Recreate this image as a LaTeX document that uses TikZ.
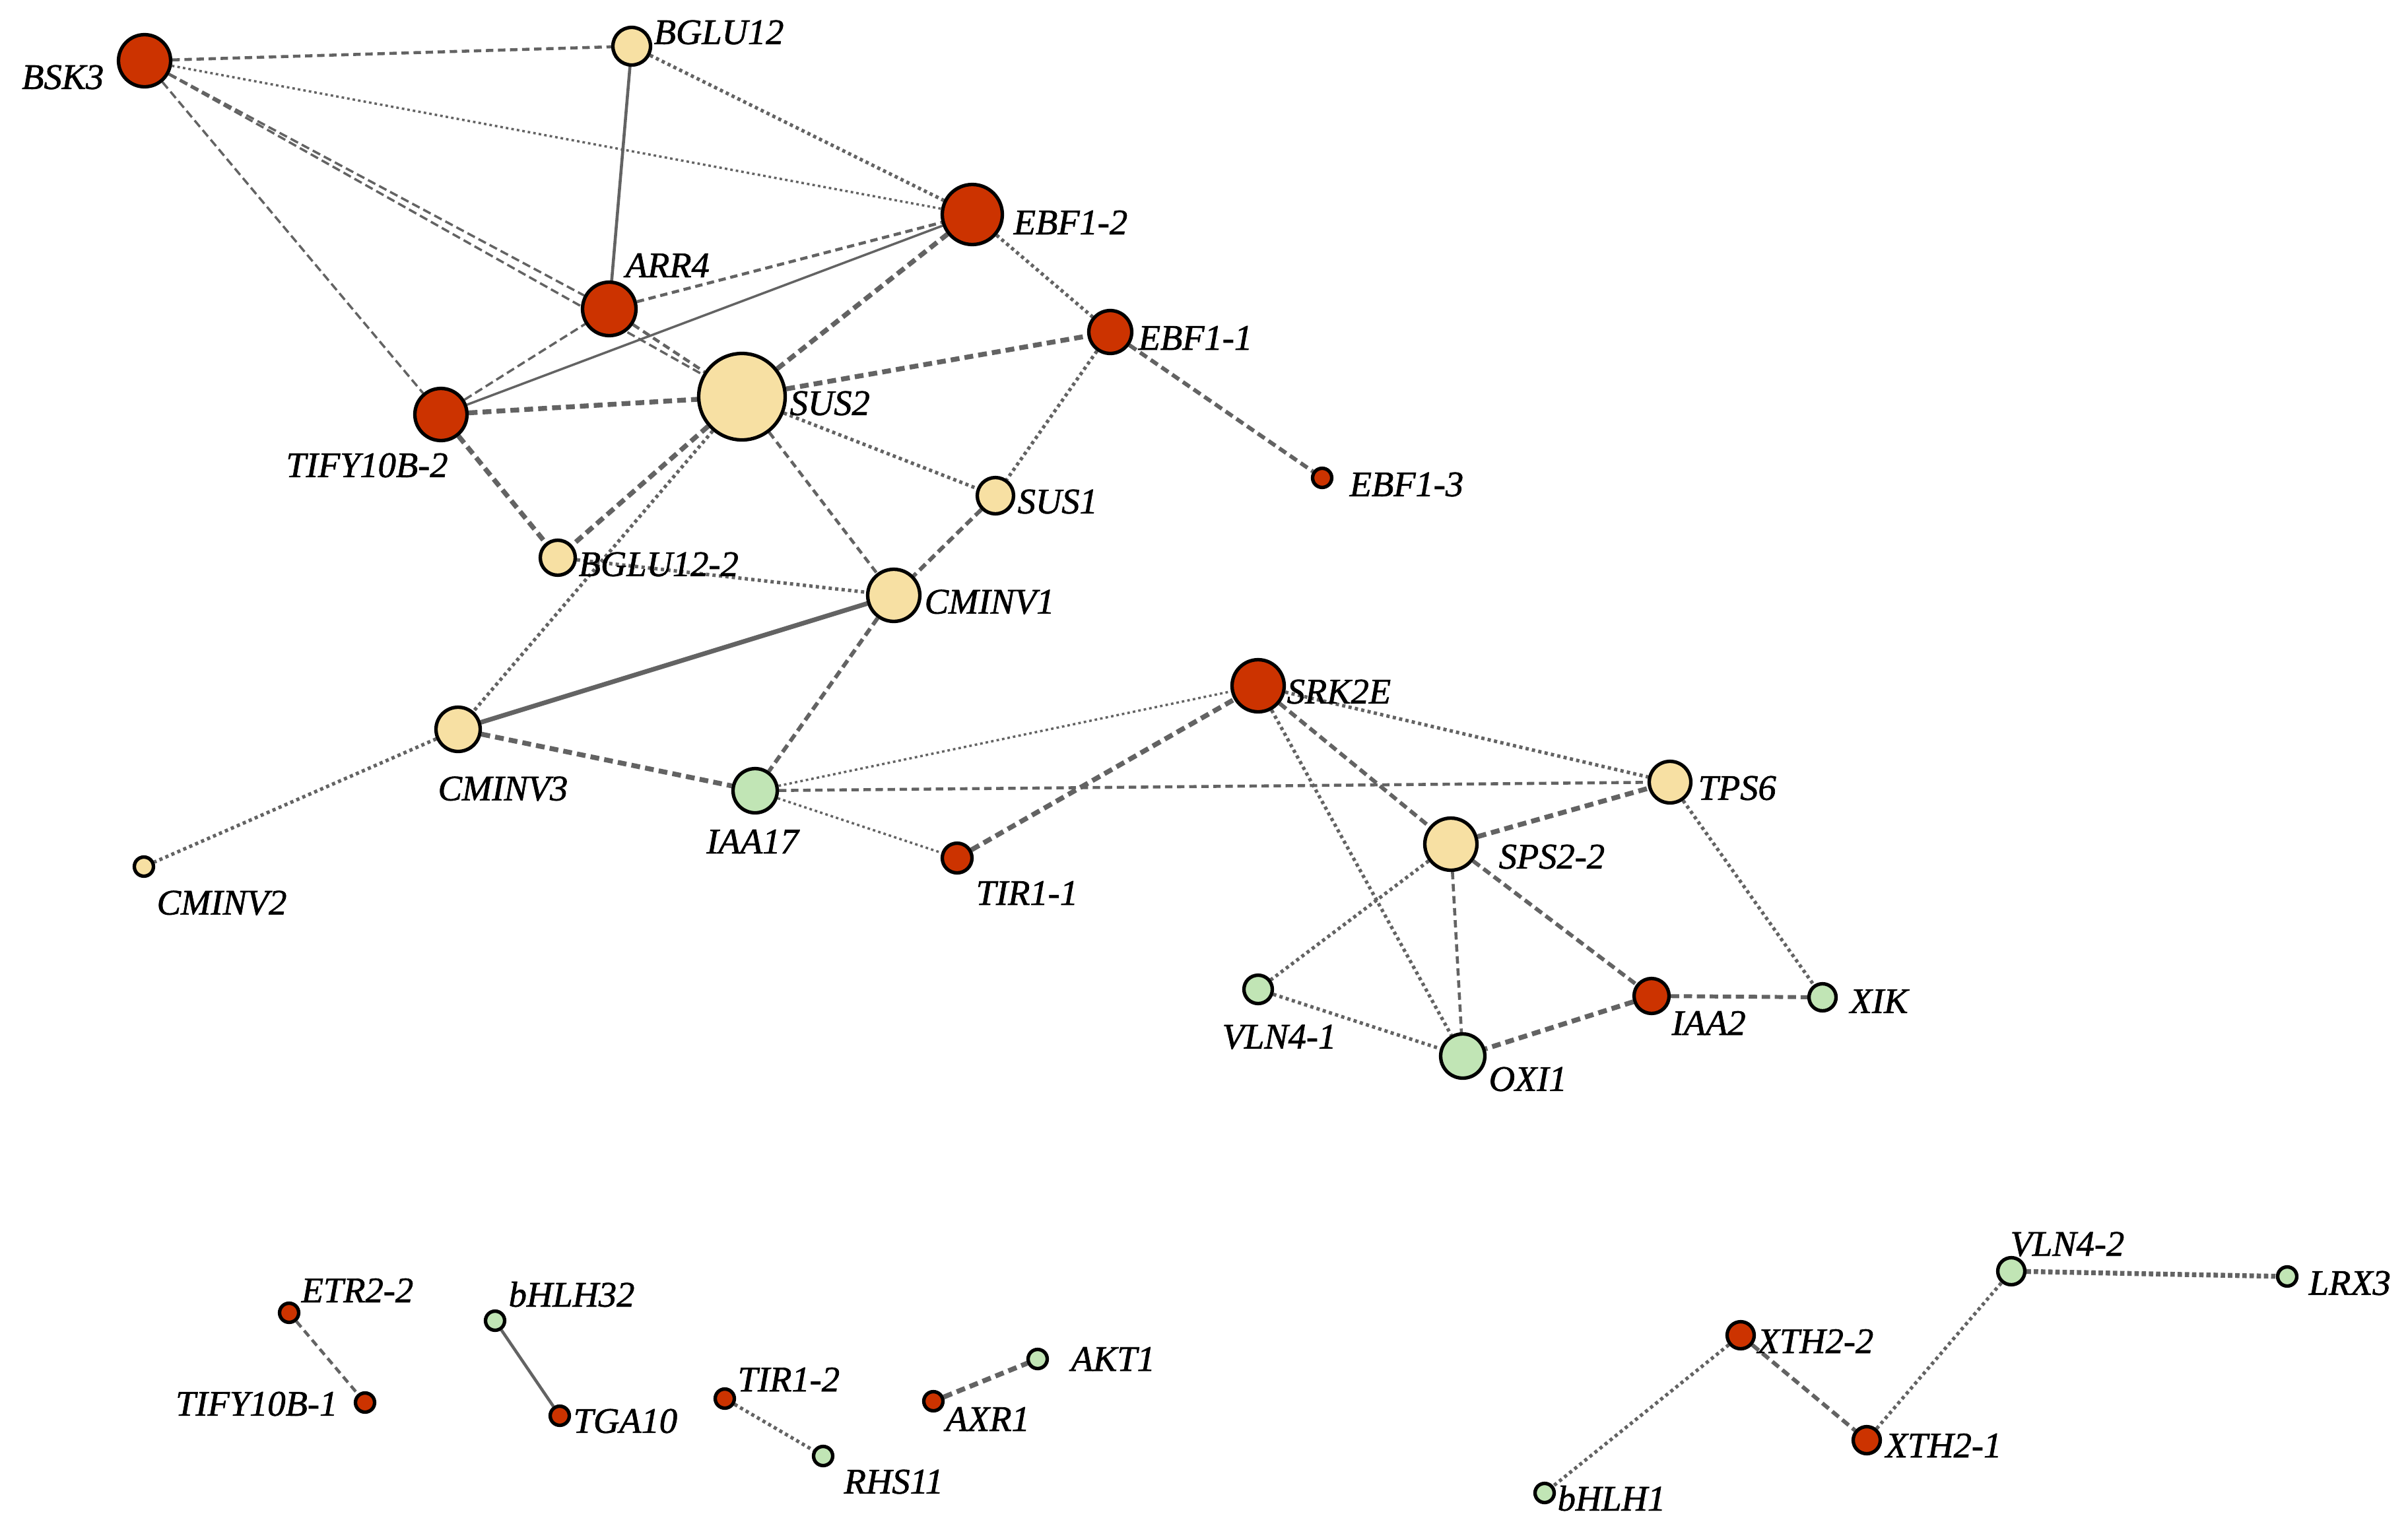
\documentclass[tikz,border=0pt]{standalone}
\usepackage{xcolor}
\usepackage{fontspec}
\setmainfont{Liberation Serif}
\newfontfamily\genefont{Liberation Serif}[RawFeature={embolden=1.3}]
\usepackage{tikz}
\usetikzlibrary{backgrounds}
\definecolor{genered}{RGB}{204, 51, 0}
\definecolor{geneyel}{RGB}{247, 224, 163}
\definecolor{genegrn}{RGB}{193, 229, 181}
\definecolor{edgegray}{RGB}{99, 99, 99}

\begin{document}
\begin{tikzpicture}[
    gene/.style={circle, draw=black, line width=1.5pt, inner sep=0pt},
    redg/.style={gene, fill=genered},
    yelg/.style={gene, fill=geneyel},
    grng/.style={gene, fill=genegrn},
    lab/.style={font=\genefont\itshape\fontsize{15.5}{15.5}\selectfont, inner sep=0pt},
    esolid/.style={edgegray, line width=1.3pt},
    ethin/.style={edgegray, line width=1pt, dash pattern=on 3.6pt off 1.8pt},
    edash/.style={edgegray, line width=1.3pt, dash pattern=on 3.2pt off 2pt},
    emid/.style={edgegray, line width=1.7pt, dash pattern=on 3.6pt off 2pt},
    ethick/.style={edgegray, line width=2.1pt, dash pattern=on 3.8pt off 2.2pt},
    edot/.style={edgegray, line width=1pt, dash pattern=on 1.1pt off 1.3pt},
    edots/.style={edgegray, line width=1.5pt, dash pattern=on 1.4pt off 1.4pt},
    edotk/.style={edgegray, line width=2.1pt, dash pattern=on 1.9pt off 1.2pt}]
    \useasboundingbox (0,0) rectangle (36.48,-23.06);

    %% upper network
    \node[redg, minimum size=0.79cm] (bsk3) at (2.19,-0.92) {};
    \node[yelg, minimum size=0.57cm] (bglu12) at (9.57,-0.70) {};
    \node[redg, minimum size=0.91cm] (ebf12) at (14.73,-3.25) {};
    \node[redg, minimum size=0.81cm] (arr4) at (9.23,-4.68) {};
    \node[redg, minimum size=0.79cm] (tify10b2) at (6.68,-6.28) {};
    \node[yelg, minimum size=1.31cm] (sus2) at (11.24,-6.01) {};
    \node[yelg, minimum size=0.55cm] (sus1) at (15.08,-7.51) {};
    \node[yelg, minimum size=0.53cm] (bglu122) at (8.45,-8.45) {};
    \node[yelg, minimum size=0.79cm] (cminv1) at (13.54,-9.02) {};
    \node[redg, minimum size=0.65cm] (ebf11) at (16.82,-5.03) {};
    \node[redg, minimum size=0.29cm] (ebf13) at (20.03,-7.24) {};
    \node[yelg, minimum size=0.29cm] (cminv2) at (2.18,-13.13) {};
    \node[yelg, minimum size=0.67cm] (cminv3) at (6.94,-11.05) {};
    \node[grng, minimum size=0.67cm] (iaa17) at (11.44,-11.98) {};
    \node[redg, minimum size=0.45cm] (tir11) at (14.50,-13.00) {};
    \node[redg, minimum size=0.79cm] (srk2e) at (19.06,-10.39) {};
    \node[yelg, minimum size=0.63cm] (tps6) at (25.30,-11.85) {};
    \node[yelg, minimum size=0.79cm] (sps22) at (21.98,-12.79) {};
    \node[grng, minimum size=0.43cm] (vln41) at (19.06,-14.99) {};
    \node[grng, minimum size=0.67cm] (oxi1) at (22.16,-16.00) {};
    \node[redg, minimum size=0.53cm] (iaa2) at (25.02,-15.09) {};
    \node[grng, minimum size=0.41cm] (xik) at (27.61,-15.11) {};

    %% small pairs at the bottom
    \node[redg, minimum size=0.29cm] (etr22) at (4.38,-19.89) {};
    \node[redg, minimum size=0.29cm] (tify10b1) at (5.53,-21.25) {};
    \node[grng, minimum size=0.29cm] (bhlh32) at (7.50,-20.01) {};
    \node[redg, minimum size=0.29cm] (tga10) at (8.48,-21.45) {};
    \node[redg, minimum size=0.29cm] (tir12) at (10.98,-21.19) {};
    \node[grng, minimum size=0.29cm] (rhs11) at (12.47,-22.06) {};
    \node[redg, minimum size=0.29cm] (axr1) at (14.14,-21.23) {};
    \node[grng, minimum size=0.29cm] (akt1) at (15.72,-20.59) {};
    \node[grng, minimum size=0.41cm] (vln42) at (30.47,-19.26) {};
    \node[grng, minimum size=0.29cm] (lrx3) at (34.65,-19.34) {};
    \node[redg, minimum size=0.41cm] (xth22) at (26.37,-20.23) {};
    \node[redg, minimum size=0.41cm] (xth21) at (28.28,-21.82) {};
    \node[grng, minimum size=0.29cm] (bhlh1) at (23.40,-22.62) {};

    %% gene names
    \node[lab, anchor=east] (bsk3-t) at (1.58,-1.17) {BSK3};
    \node[lab, anchor=west] (bglu12-t) at (9.90,-0.49) {BGLU12};
    \node[lab, anchor=west] (ebf12-t) at (15.35,-3.37) {EBF1-2};
    \node[lab, anchor=west] (arr4-t) at (9.47,-4.02) {ARR4};
    \node[lab] (tify10b2-t) at (5.56,-7.05) {TIFY10B-2};
    \node[lab, anchor=west] (sus2-t) at (11.96,-6.11) {SUS2};
    \node[lab, anchor=west] (sus1-t) at (15.41,-7.60) {SUS1};
    \node[lab, anchor=west] (bglu122-t) at (8.76,-8.55) {BGLU12-2};
    \node[lab, anchor=west] (cminv1-t) at (14.00,-9.12) {CMINV1};
    \node[lab, anchor=west] (ebf11-t) at (17.24,-5.12) {EBF1-1};
    \node[lab, anchor=west] (ebf13-t) at (20.44,-7.34) {EBF1-3};
    \node[lab, anchor=west] (cminv2-t) at (2.37,-13.68) {CMINV2};
    \node[lab] (cminv3-t) at (7.62,-11.95) {CMINV3};
    \node[lab] (iaa17-t) at (11.40,-12.75) {IAA17};
    \node[lab, anchor=west] (tir11-t) at (14.78,-13.53) {TIR1-1};
    \node[lab, anchor=west] (srk2e-t) at (19.49,-10.48) {SRK2E};
    \node[lab, anchor=west] (tps6-t) at (25.72,-11.94) {TPS6};
    \node[lab, anchor=west] (sps22-t) at (22.70,-12.98) {SPS2-2};
    \node[lab] (vln41-t) at (19.38,-15.71) {VLN4-1};
    \node[lab, anchor=west] (oxi1-t) at (22.55,-16.35) {OXI1};
    \node[lab, anchor=west] (iaa2-t) at (25.32,-15.50) {IAA2};
    \node[lab, anchor=west] (xik-t) at (28.02,-15.17) {XIK};
    \node[lab, anchor=west] (etr22-t) at (4.56,-19.55) {ETR2-2};
    \node[lab, anchor=east] (tify10b1-t) at (5.12,-21.27) {TIFY10B-1};
    \node[lab, anchor=west] (bhlh32-t) at (7.70,-19.61) {bHLH32};
    \node[lab, anchor=west] (tga10-t) at (8.68,-21.53) {TGA10};
    \node[lab, anchor=west] (tir12-t) at (11.17,-20.90) {TIR1-2};
    \node[lab, anchor=west] (rhs11-t) at (12.78,-22.45) {RHS11};
    \node[lab, anchor=west] (axr1-t) at (14.32,-21.50) {AXR1};
    \node[lab, anchor=west] (akt1-t) at (16.22,-20.59) {AKT1};
    \node[lab, anchor=west] (vln42-t) at (30.45,-18.85) {VLN4-2};
    \node[lab, anchor=west] (lrx3-t) at (34.97,-19.44) {LRX3};
    \node[lab, anchor=west] (xth22-t) at (26.62,-20.32) {XTH2-2};
    \node[lab, anchor=west] (xth21-t) at (28.56,-21.90) {XTH2-1};
    \node[lab, anchor=west] (bhlh1-t) at (23.59,-22.70) {bHLH1};

    %% interactions
    \begin{scope}[on background layer]
      \foreach \a/\b in {bglu12/arr4, bhlh32/tga10}
        \draw[esolid] (\a) -- (\b);
      \draw[esolid, line width=1pt] (tify10b2) -- (ebf12);
      \draw[esolid, line width=2pt] (cminv1) -- (cminv3);
      \foreach \a/\b in {bsk3/arr4, bsk3/sus2, bsk3/tify10b2, tify10b2/arr4}
        \draw[ethin] (\a) -- (\b);
      \foreach \a/\b in {bsk3/bglu12, arr4/ebf12, arr4/sus2, sus2/cminv1,
                         iaa17/tps6, sps22/oxi1, etr22/tify10b1}
        \draw[edash] (\a) -- (\b);
      \foreach \a/\b in {ebf11/ebf13, sus1/cminv1, cminv1/iaa17, srk2e/sps22,
                         sps22/iaa2, iaa2/xik, xth22/xth21}
        \draw[emid] (\a) -- (\b);
      \foreach \a/\b in {tify10b2/sus2, tify10b2/bglu122, sus2/ebf12, sus2/ebf11,
                         sus2/bglu122, cminv3/iaa17, tir11/srk2e, sps22/tps6,
                         iaa2/oxi1, axr1/akt1}
        \draw[ethick] (\a) -- (\b);
      \foreach \a/\b in {bsk3/ebf12, iaa17/srk2e, iaa17/tir11}
        \draw[edot] (\a) -- (\b);
      \foreach \a/\b in {bglu12/ebf12, ebf12/ebf11, ebf11/sus1, sus2/sus1,
                         sus2/cminv3, bglu122/cminv1, cminv3/cminv2, srk2e/tps6,
                         srk2e/oxi1, sps22/vln41, vln41/oxi1, tps6/xik,
                         tir12/rhs11, xth21/vln42, xth22/bhlh1}
        \draw[edots] (\a) -- (\b);
      \draw[edotk] (vln42) -- (lrx3);
    \end{scope}
\end{tikzpicture}
\end{document}
